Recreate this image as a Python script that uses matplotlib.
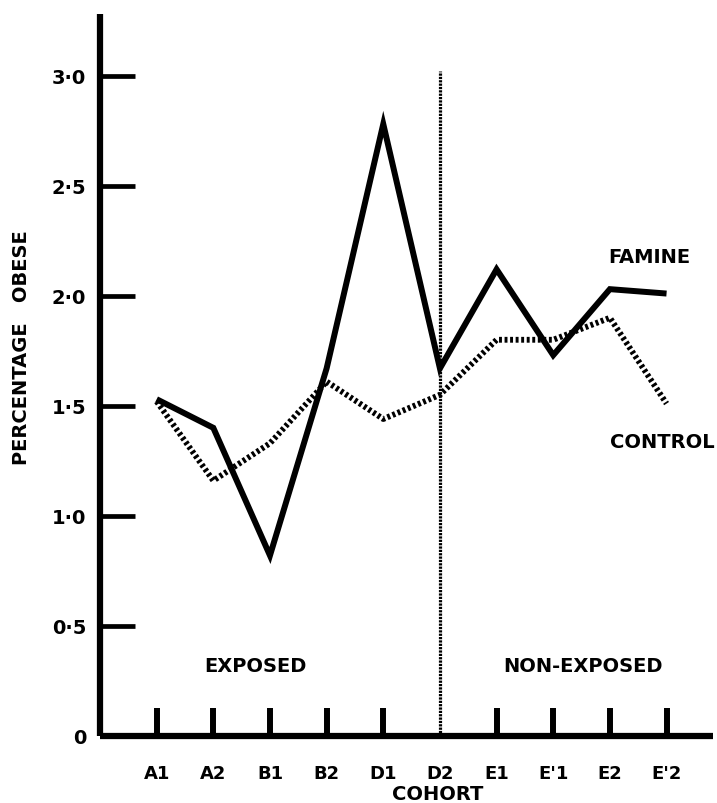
import matplotlib
matplotlib.use('Agg')
import matplotlib.pyplot as plt
import numpy as np

# percentage obese per cohort
cohorts = ['A1', 'A2', 'B1', 'B2', 'D1', 'D2', 'E1', "E'1", 'E2', "E'2"]
famine = [1.53, 1.40, 0.82, 1.67, 2.78, 1.67, 2.12, 1.73, 2.03, 2.01]
control = [1.52, 1.16, 1.33, 1.61, 1.44, 1.55, 1.80, 1.80, 1.90, 1.51]
yticks = [0, 0.5, 1.0, 1.5, 2.0, 2.5, 3.0]
ytick_labels = ['0', '0·5', '1·0', '1·5', '2·0', '2·5', '3·0']
split = 'D2'  # last exposed cohort

plt.rcParams['font.family'] = 'DejaVu Sans'
plt.rcParams['font.weight'] = 'bold'

fig = plt.figure(figsize=(7.17, 8.04), dpi=100)
ax = fig.add_axes([100 / 717, 67 / 804, 613 / 717, 722 / 804])

x = np.arange(len(cohorts))
ax.plot(x, famine, color='black', lw=4.3, solid_joinstyle='miter',
        solid_capstyle='butt', zorder=3)
ax.plot(x, control, color='black', lw=4.2, dashes=(0.5, 0.45),
        dash_capstyle='butt', zorder=2)

# dotted divider between exposed and non-exposed cohorts
xs = cohorts.index(split)
ax.plot([xs, xs], [0, 3.02], color='black', lw=2.3, dashes=(0.7, 0.35),
        dash_capstyle='butt', zorder=1)

ax.set_xlim(-1.0, 9.82)
ax.set_ylim(0, 3.28)

for s in ['top', 'right']:
    ax.spines[s].set_visible(False)
for s in ['left', 'bottom']:
    ax.spines[s].set_linewidth(4.5)
    ax.spines[s].set_capstyle('butt')

ax.set_yticks(yticks)
ax.set_yticklabels(ytick_labels, fontsize=14, fontweight='bold')
ax.tick_params(axis='y', direction='in', length=25, width=3.4, pad=10)

ax.xaxis.remove_overlapping_locs = False
ax.set_xticks(x)
ax.set_xticklabels(cohorts, fontsize=13, fontweight='bold')
ax.tick_params(axis='x', which='major', length=0, pad=20)
ax.set_xticks([i for i in x if cohorts[i] != split], minor=True)
ax.tick_params(axis='x', which='minor', direction='in', length=20, width=4.3)

ax.text(1.75, 0.32, 'EXPOSED', ha='center', va='center', fontsize=14)
ax.text(7.53, 0.32, 'NON-EXPOSED', ha='center', va='center', fontsize=14)
ax.text(8.69, 2.18, 'FAMINE', ha='center', va='center', fontsize=14)
ax.text(8.92, 1.34, 'CONTROL', ha='center', va='center', fontsize=14)

fig.text(438 / 717, 1 - 795 / 804, 'COHORT', ha='center', va='center',
         fontsize=14, fontweight='bold')
fig.text(22 / 717, 1 - 348 / 804, 'PERCENTAGE   OBESE', ha='center',
         va='center', rotation=90, fontsize=14, fontweight='bold')

fig.savefig('out.png', dpi=100)
